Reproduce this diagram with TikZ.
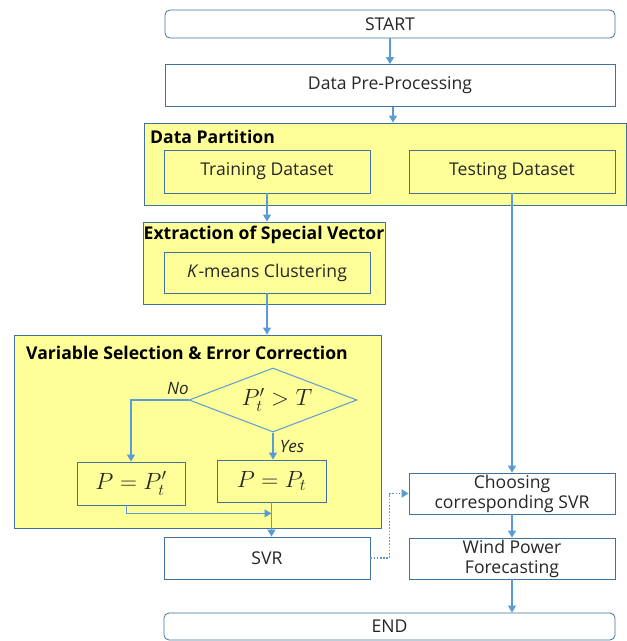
\RequirePackage{fix-cm}
\documentclass[tikz,border=0pt]{standalone}
\usepackage{fontspec}
\setmainfont{Open Sans}
\usetikzlibrary{shapes.geometric,arrows.meta,calc}
\definecolor{boxc}{HTML}{41719C}
\definecolor{linec}{HTML}{5B9BD5}
\definecolor{yel}{HTML}{FFFF99}
\definecolor{txt}{HTML}{262626}
\begin{document}
\begin{tikzpicture}[x=1pt,y=1pt,
  box/.style={draw=boxc,line width=0.8pt,fill=white,rectangle,inner sep=0pt,text=txt,
    font=\fontsize{17.6}{20}\selectfont,align=center},
  ybox/.style={box,fill=yel},
  grp/.style={draw=boxc,line width=0.8pt,fill=yel,rectangle,inner sep=0pt},
  glabel/.style={inner sep=0pt,text=black,font=\fontsize{17.6}{20}\selectfont\bfseries},
  conn/.style={draw=linec,line width=1.1pt,-{Triangle[width=8pt,length=7pt]}},
  lbl/.style={inner sep=0pt,text=txt,font=\fontsize{17}{19}\selectfont\itshape},
  mth/.style={font=\fontsize{23.5}{26}\selectfont}
]
\useasboundingbox (0,0) rectangle (627,-641);
% groups
\node[grp,minimum width=482,minimum height=82] (part) at (385,-164) {};
\node[grp,minimum width=242,minimum height=82] (extr) at (264,-263) {};
\node[grp,minimum width=367,minimum height=193] (var) at (197.5,-431.5) {};
\node[glabel,anchor=west] (partl) at (150,-137) {Data Partition};
\node[glabel] (extrl) at (264,-235) {Extraction of Special Vector};
\node[glabel,anchor=west] (varl) at (26,-353) {Variable Selection \& Error Correction};
% boxes
\node[box,rounded corners=5pt,minimum width=450,minimum height=28] (start) at (390,-24) {START};
\node[box,minimum width=450,minimum height=42] (pre) at (390,-85.5) {Data Pre-Processing};
\node[ybox,minimum width=206,minimum height=43] (train) at (267,-171.5) {Training Dataset};
\node[ybox,minimum width=206,minimum height=43] (test) at (512,-171.5) {Testing Dataset};
\node[ybox,minimum width=206,minimum height=41] (kmeans) at (267,-272.5) {\textit{K}-means Clustering};
\node[draw=linec,line width=1pt,fill=yel,diamond,inner sep=0pt,minimum width=168,minimum height=64] (dia) at (273,-400) {};
\node[inner sep=0pt,text=txt,mth] (diat) at (277,-400) {$P'_t > T$};
\node[ybox,minimum width=108,minimum height=43,mth] (p1) at (131,-483.5) {$P = P'_t$};
\node[ybox,minimum width=109,minimum height=42,mth] (p2) at (271.5,-481) {$P = P_t$};
\node[box,minimum width=206,minimum height=42] (svr) at (267,-558) {SVR};
\node[box,minimum width=206,minimum height=41] (choose) at (512,-493.5) {Choosing\\corresponding SVR};
\node[box,minimum width=206,minimum height=41] (wind) at (512,-558.5) {Wind Power\\Forecasting};
\node[box,rounded corners=5pt,minimum width=451,minimum height=27] (end) at (389.5,-626.5) {END};
% labels
\node[lbl] (no) at (178,-388) {No};
\node[lbl] (yes) at (292,-447) {Yes};
% connectors
\draw[conn] (start.south) -- (pre.north);
\draw[conn] ([xshift=3pt]pre.south) -- ([xshift=3pt]pre.south |- part.north);
\draw[conn] (train.south) -- (train.south |- extr.north);
\draw[conn] (kmeans.south) -- (kmeans.south |- var.north);
\draw[conn] (dia.west) -| (p1.north);
\draw[conn] (dia.south) -- (dia.south |- p2.north);
\coordinate (join) at ($(p2.south)+(0,-11)$);
\draw[conn,line width=0.9pt] ([xshift=-5pt]p1.south) |- (join);
\draw[conn] (p2.south) -- (p2.south |- svr.north);
\draw[conn] (test.south) -- (choose.north);
\draw[conn] (choose.south) -- (wind.north);
\draw[conn] (wind.south) -- (wind.south |- end.north);
\draw[conn,line width=1.8pt,dash pattern=on 1.6pt off 1.6pt,-{Triangle[width=8pt,length=7pt]}] (svr.east) -- ++(19,0) |- (choose.west);
\end{tikzpicture}
\end{document}
